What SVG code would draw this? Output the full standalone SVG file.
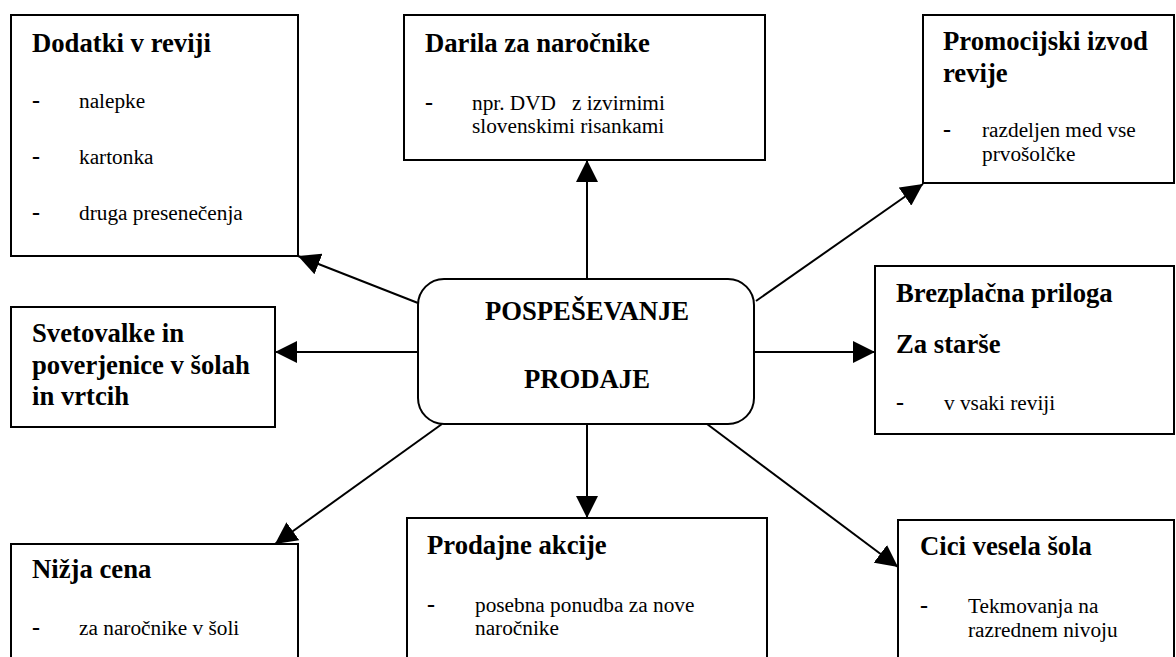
<svg xmlns="http://www.w3.org/2000/svg" width="1176" height="657" viewBox="0 0 1176 657" font-family="Liberation Serif, serif" fill="#000">
  <defs>
    <marker id="arrow" markerUnits="userSpaceOnUse" markerWidth="22" markerHeight="22" refX="22" refY="11" orient="auto">
      <path d="M0,0 L22,11 L0,22 Z" fill="#000" stroke="none"/>
    </marker>
  </defs>

  <rect width="1176" height="657" fill="#fff"/>

  <!-- connectors from the central node -->
  <g id="connectors" stroke="#000" stroke-width="2" fill="none" marker-end="url(#arrow)">
    <line x1="587" y1="279" x2="587" y2="160"/>
    <line x1="756" y1="301" x2="923" y2="184"/>
    <line x1="418" y1="303" x2="298" y2="256"/>
    <line x1="418" y1="352" x2="275" y2="352"/>
    <line x1="754" y1="352" x2="875" y2="352"/>
    <line x1="442" y1="424" x2="275" y2="544"/>
    <line x1="587" y1="424" x2="587" y2="518"/>
    <line x1="707" y1="424" x2="898" y2="567"/>
  </g>

  <!-- nodes: shared box stroke, title and item text sizes set per element -->
  <g id="center">
    <rect x="418" y="279" width="336" height="145" rx="26" ry="26" fill="#fff" stroke="#000" stroke-width="2"/>
    <g font-weight="bold" font-size="26.7" text-anchor="middle">
      <text x="587" y="320">POSPEŠEVANJE</text>
      <text x="587" y="388">PRODAJE</text>
    </g>
  </g>

  <g id="dodatki">
    <rect x="11" y="15" width="287" height="241" fill="#fff" stroke="#000" stroke-width="2"/>
    <text x="32" y="52" font-weight="bold" font-size="26.7">Dodatki v reviji</text>
    <g font-weight="bold" font-size="24">
      <text x="32" y="108">-</text>
      <text x="32" y="164">-</text>
      <text x="32" y="220">-</text>
    </g>
    <g font-size="21.3">
      <text x="79" y="108">nalepke</text>
      <text x="79" y="164">kartonka</text>
      <text x="79" y="220">druga presenečenja</text>
    </g>
  </g>

  <g id="darila">
    <rect x="404" y="15" width="361" height="145" fill="#fff" stroke="#000" stroke-width="2"/>
    <text x="425" y="52" font-weight="bold" font-size="26.7">Darila za naročnike</text>
    <text x="425" y="110" font-weight="bold" font-size="24">-</text>
    <g font-size="21.3">
      <text x="472" y="110" xml:space="preserve">npr. DVD   z izvirnimi</text>
      <text x="472" y="133">slovenskimi risankami</text>
    </g>
  </g>

  <g id="promocijski">
    <rect x="923" y="15" width="251" height="168" fill="#fff" stroke="#000" stroke-width="2"/>
    <g font-weight="bold" font-size="26.7">
      <text x="943" y="50">Promocijski izvod</text>
      <text x="943" y="82">revije</text>
    </g>
    <text x="943" y="137" font-weight="bold" font-size="24">-</text>
    <g font-size="21.3">
      <text x="982" y="137">razdeljen med vse</text>
      <text x="982" y="161">prvošolčke</text>
    </g>
  </g>

  <g id="svetovalke">
    <rect x="11" y="307" width="264" height="120" fill="#fff" stroke="#000" stroke-width="2"/>
    <g font-weight="bold" font-size="26.7">
      <text x="32" y="342">Svetovalke in</text>
      <text x="32" y="374">poverjenice v šolah</text>
      <text x="32" y="405">in vrtcih</text>
    </g>
  </g>

  <g id="brezplacna">
    <rect x="875" y="266" width="299" height="168" fill="#fff" stroke="#000" stroke-width="2"/>
    <g font-weight="bold" font-size="26.7">
      <text x="896" y="302">Brezplačna priloga</text>
      <text x="896" y="353">Za starše</text>
    </g>
    <text x="896" y="410" font-weight="bold" font-size="24">-</text>
    <text x="944" y="410" font-size="21.3">v vsaki reviji</text>
  </g>

  <g id="nizja">
    <rect x="11" y="544" width="287" height="130" fill="#fff" stroke="#000" stroke-width="2"/>
    <text x="32" y="578" font-weight="bold" font-size="26.7">Nižja cena</text>
    <text x="32" y="635" font-weight="bold" font-size="24">-</text>
    <text x="79" y="635" font-size="21.3">za naročnike v šoli</text>
  </g>

  <g id="prodajne">
    <rect x="407" y="518" width="360" height="150" fill="#fff" stroke="#000" stroke-width="2"/>
    <text x="427" y="554" font-weight="bold" font-size="26.7">Prodajne akcije</text>
    <text x="427" y="612" font-weight="bold" font-size="24">-</text>
    <g font-size="21.3">
      <text x="475" y="612">posebna ponudba za nove</text>
      <text x="475" y="635">naročnike</text>
    </g>
  </g>

  <g id="cici">
    <rect x="898" y="520" width="276" height="150" fill="#fff" stroke="#000" stroke-width="2"/>
    <text x="920" y="555" font-weight="bold" font-size="26.7">Cici vesela šola</text>
    <text x="920" y="613" font-weight="bold" font-size="24">-</text>
    <g font-size="21.3">
      <text x="968" y="613">Tekmovanja na</text>
      <text x="968" y="637">razrednem nivoju</text>
    </g>
  </g>
</svg>
